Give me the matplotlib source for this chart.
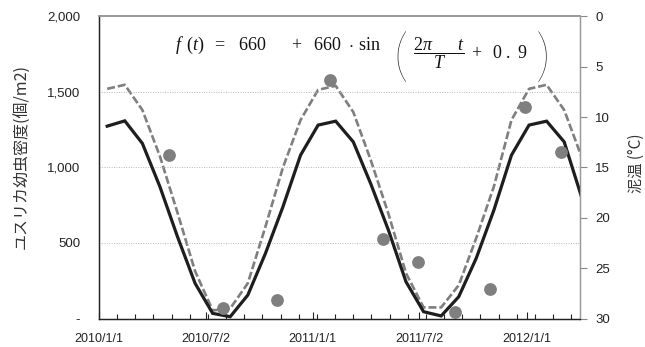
import matplotlib
matplotlib.use("Agg")
import matplotlib.pyplot as plt
import matplotlib.dates as mdates
import numpy as np

plt.rcParams['font.family'] = ['Liberation Sans', 'Noto Sans CJK JP', 'DejaVu Sans']
plt.rcParams['mathtext.fontset'] = 'custom'
plt.rcParams['mathtext.rm'] = 'Liberation Serif'
plt.rcParams['mathtext.it'] = 'Liberation Serif:italic'
plt.rcParams['mathtext.bf'] = 'Liberation Serif:bold'

# ---------------- data ----------------
model_dates = ['2010-01-15', '2010-02-14', '2010-03-16', '2010-04-15', '2010-05-15', '2010-06-14',
               '2010-07-14', '2010-08-13', '2010-09-12', '2010-10-12', '2010-11-11', '2010-12-11',
               '2011-01-10', '2011-02-09', '2011-03-11', '2011-04-10', '2011-05-10', '2011-06-09',
               '2011-07-09', '2011-08-08', '2011-09-07', '2011-10-07', '2011-11-06', '2011-12-06',
               '2012-01-05', '2012-02-04', '2012-03-05', '2012-04-04']
model_density = [1273, 1308, 1159, 872, 541, 233, 34, 12, 155, 430, 740, 1081,
                 1280, 1306, 1169, 890, 585, 243, 45, 17, 144, 400, 717, 1081,
                 1280, 1306, 1169, 800]
mud_temp = [7.2, 6.8, 9.3, 13.9, 19.5, 25.3, 29.2, 29.0, 26.5, 20.9, 15.0, 10.3,
            7.3, 6.9, 9.5, 14.3, 19.6, 25.5, 28.9, 28.9, 26.7, 22.0, 16.9, 10.3,
            7.2, 6.8, 9.3, 14.0]

obs_dates = ['2010-04-30', '2010-07-31', '2010-10-31', '2011-01-31', '2011-04-30',
             '2011-06-30', '2011-08-31', '2011-10-30', '2011-12-29', '2012-02-28']
obs_density = [1081, 67, 122, 1577, 524, 376, 45, 195, 1397, 1103]

x_tick_dates = ['2010-01-01', '2010-07-02', '2011-01-01', '2011-07-02', '2012-01-01']
x_tick_labels = ['2010/1/1', '2010/7/2', '2011/1/1', '2011/7/2', '2012/1/1']
y_ticks = [0, 500, 1000, 1500, 2000]
y_tick_labels = ['-', '500', '1,000', '1,500', '2,000']
t_ticks = [0, 5, 10, 15, 20, 25, 30]
t_tick_labels = ['0', '5', '10', '15', '20', '25', '30']

x_start, x_end = '2010-01-01', '2012-04-01'

# ---------------- figure ----------------
fig = plt.figure(figsize=(6.45, 3.47), dpi=100)
W, H = 645, 347
L, R, T, B = 99, 580, 16.3, 318.5
ax1 = fig.add_axes([L / W, 1 - B / H, (R - L) / W, (B - T) / H])
ax2 = ax1.twinx()
ax1.set_zorder(ax2.get_zorder() + 1)
ax1.patch.set_visible(False)

md = mdates.datestr2num(model_dates)
od = mdates.datestr2num(obs_dates)

ax2.plot(md, mud_temp, color='#7f7f7f', lw=1.9, dashes=(3.0, 1.1), solid_capstyle='butt')
ax1.plot(md, model_density, color='#1e1e1e', lw=2.3, solid_joinstyle='miter')
ax1.plot(od, obs_density, 'o', color='#7f7f7f', ms=9.2, mec='none')

x0, x1 = mdates.datestr2num(x_start), mdates.datestr2num(x_end)
ax1.set_xlim(x0, x1)
ax1.set_ylim(0, 2000)
ax2.set_ylim(30, 0)

ax1.set_xticks(mdates.datestr2num(x_tick_dates))
ax1.set_xticklabels(x_tick_labels)
ax1.set_xticks(np.arange(x0, x1, 31), minor=True)
ax1.tick_params(axis='x', which='major', direction='in', length=5, width=0.8, pad=10.5,
                labelsize=9, colors='#222222')
ax1.tick_params(axis='x', which='minor', direction='in', length=3.5, width=0.8, color='#222222')

ax1.set_yticks(y_ticks)
ax1.set_yticklabels(y_tick_labels)
ax1.tick_params(axis='y', length=0, pad=13.5, labelsize=9.5, colors='#222222')

ax2.set_yticks(t_ticks)
ax2.set_yticklabels(t_tick_labels)
ax2.tick_params(axis='y', direction='out', length=5, width=0.8, color='#888888', pad=6,
                labelsize=9.5, labelcolor='#222222')

for y in y_ticks[1:-1]:
    ax1.axhline(y, color='#b8b8b8', lw=0.7, ls=(0, (1, 1.5)), zorder=0)

for ax in (ax1, ax2):
    ax.spines['top'].set_color('#999999')
    ax.spines['top'].set_linewidth(1.2)
    ax.spines['right'].set_color('#999999')
    ax.spines['right'].set_linewidth(0.9)
    ax.spines['left'].set_color('#222222')
    ax.spines['left'].set_linewidth(0.9)
    ax.spines['bottom'].set_color('#222222')
    ax.spines['bottom'].set_linewidth(0.9)

fig.text(22 / W, 1 - 157 / H, 'ユスリカ幼虫密度(個/m2)', rotation=90, ha='center', va='center',
         fontsize=11.5, family=['Noto Sans CJK JP', 'DejaVu Sans'], color='#333333')
fig.text(636 / W, 1 - 163 / H, '泥温 (°C)', rotation=90, ha='center', va='center',
         fontsize=11, family=['Noto Sans CJK JP', 'DejaVu Sans'], color='#333333')

eq_left = r'$f\ \,(t)\ \ =\ \ \,660\quad\ \ \,+\ \ 660\ \ {\cdot}\ \mathrm{sin}$'
eq_right = r'$\dfrac{2\pi\qquad t}{T}\ +\ \ 0\ .\ 9$'
fig.text(175 / W, 1 - 50 / H, eq_left, ha='left', va='baseline', fontsize=13, color='#111111')
fig.text(413 / W, 1 - 53 / H, eq_right, ha='left', va='center', fontsize=13, color='#111111')
fig.text(401 / W, 1 - 59 / H, '(', ha='center', va='center', fontsize=41,
         family=['Lato', 'DejaVu Sans'], fontweight=200, color='#222222')
fig.text(543 / W, 1 - 59 / H, ')', ha='center', va='center', fontsize=41,
         family=['Lato', 'DejaVu Sans'], fontweight=200, color='#222222')

fig.savefig('out.png', dpi=100, facecolor='white')
